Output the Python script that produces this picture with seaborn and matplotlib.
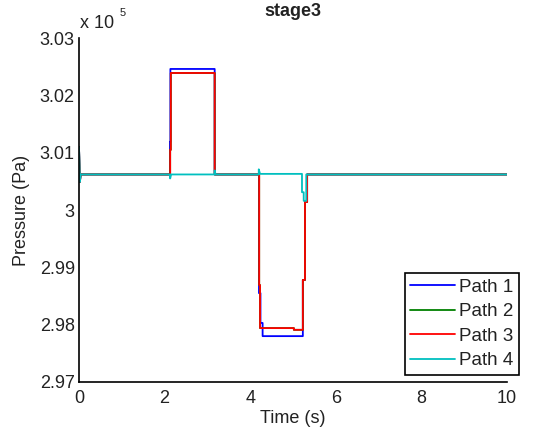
import pandas as pd
import matplotlib.pyplot as plt
import seaborn as sns

# ------------------------------------
# DATA (pressure in units of 1e5 Pa)
# ------------------------------------

paths = ["Path 1", "Path 2", "Path 3", "Path 4"]
colors = ["#0000ff", "#008000", "#ff0000", "#00bfbf"]

time_p1 = [0, 0.02, 0.04, 2.125, 2.125, 2.135, 2.135, 3.17, 3.17, 4.205, 4.205,
           4.24, 4.24, 4.29, 4.29, 5.23, 5.23, 5.28, 5.28, 5.33, 5.33, 10]
pres_p1 = [3.0110, 3.0049, 3.0062, 3.0062, 3.0119, 3.0119, 3.0246, 3.0246, 3.0062, 3.0062, 2.9855,
           2.9855, 2.9803, 2.9803, 2.9780, 2.9780, 2.9878, 2.9878, 3.0014, 3.0014, 3.0062, 3.0062]

time_p2 = [0, 0.02, 0.04, 2.13, 2.13, 2.145, 2.145, 3.17, 3.17, 4.21, 4.21,
           4.23, 4.23, 5.02, 5.02, 5.23, 5.23, 5.28, 5.28, 5.33, 5.33, 10]
pres_p2 = [3.0110, 3.0049, 3.0062, 3.0062, 3.0105, 3.0105, 3.0239, 3.0239, 3.0062, 3.0062, 2.9869,
           2.9869, 2.9794, 2.9794, 2.9791, 2.9791, 2.9878, 2.9878, 3.0014, 3.0014, 3.0062, 3.0062]

time_p3 = [0, 0.02, 0.04, 2.13, 2.13, 2.145, 2.145, 3.17, 3.17, 4.21, 4.21,
           4.23, 4.23, 5.02, 5.02, 5.23, 5.23, 5.28, 5.28, 5.33, 5.33, 10]
pres_p3 = [3.0110, 3.0049, 3.0062, 3.0062, 3.0105, 3.0105, 3.0239, 3.0239, 3.0062, 3.0062, 2.9869,
           2.9869, 2.9794, 2.9794, 2.9791, 2.9791, 2.9878, 2.9878, 3.0014, 3.0014, 3.0062, 3.0062]

time_p4 = [0, 0.02, 0.04, 2.13, 2.13, 2.15, 3.17, 3.17, 3.19, 4.20, 4.20,
           4.23, 5.21, 5.21, 5.25, 5.25, 5.31, 5.31, 10]
pres_p4 = [3.0110, 3.0049, 3.0062, 3.0062, 3.0055, 3.0062, 3.0062, 3.0069, 3.0062, 3.0062, 3.0071,
           3.0063, 3.0063, 3.0031, 3.0031, 3.0016, 3.0016, 3.0062, 3.0062]

x_ticks = [0, 2, 4, 6, 8, 10]
y_ticks = [2.97, 2.98, 2.99, 3.00, 3.01, 3.02, 3.03]
y_tick_labels = ["2.97", "2.98", "2.99", "3", "3.01", "3.02", "3.03"]

# ------------------------------------
# BUILD LONG TABLE
# ------------------------------------

frames = []
for name, t, p in zip(paths,
                      [time_p1, time_p2, time_p3, time_p4],
                      [pres_p1, pres_p2, pres_p3, pres_p4]):
    frames.append(pd.DataFrame({"time": t, "pressure": p, "path": name}))
df = pd.concat(frames, ignore_index=True)

# ------------------------------------
# PLOT
# ------------------------------------

sns.set_style("white")
plt.rcParams["font.family"] = ["Liberation Sans", "DejaVu Sans"]

fig = plt.figure(figsize=(5.41, 4.34), dpi=100)
ax = fig.add_axes([79 / 541, 52 / 434, 428 / 541, 344 / 434])

sns.lineplot(
    data=df, x="time", y="pressure", hue="path",
    palette=dict(zip(paths, colors)), hue_order=paths,
    estimator=None, sort=False, linewidth=1.3, legend=False, ax=ax
)

ax.set_xlim(0, 10)
ax.set_ylim(2.97, 3.03)
ax.set_xticks(x_ticks)
ax.set_xticklabels([str(v) for v in x_ticks])
ax.set_yticks(y_ticks)
ax.set_yticklabels(y_tick_labels)

for side in ["top", "right"]:
    ax.spines[side].set_visible(False)
for side in ["left", "bottom"]:
    ax.spines[side].set_color("black")
    ax.spines[side].set_linewidth(1.2)

ax.tick_params(direction="in", length=4, width=1, colors="black",
               labelsize=13, labelcolor="#222222")
ax.tick_params(axis="x", pad=6)
ax.tick_params(axis="y", pad=3)

ax.set_xlabel("Time (s)", fontsize=13, color="#222222")
ax.set_ylabel("Pressure (Pa)", fontsize=13, color="#222222")
ax.xaxis.set_label_coords(0.5, -0.08)
ax.yaxis.set_label_coords(-0.114, 0.5)

fig.text(293 / 541, 1 - 12 / 434, "stage3", ha="center", va="center",
         fontsize=13, fontweight="bold", color="#222222")
fig.text(80 / 541, 1 - 24 / 434, "x 10", ha="left", va="center",
         fontsize=13, color="#222222")
fig.text(120 / 541, 1 - 13 / 434, "5", ha="left", va="center",
         fontsize=8, color="#222222")

leg = ax.legend(ax.get_lines()[:4], paths, loc="lower right",
                bbox_to_anchor=(519 / 541, 59 / 434),
                bbox_transform=fig.transFigure, borderaxespad=0,
                fontsize=13.5, handlelength=2.4, handletextpad=0.2,
                labelspacing=0.4, borderpad=0.3, fancybox=False,
                framealpha=1, edgecolor="black")
leg.get_frame().set_linewidth(1.2)
for txt in leg.get_texts():
    txt.set_color("#222222")

plt.savefig("out.png", dpi=100)
plt.close()
